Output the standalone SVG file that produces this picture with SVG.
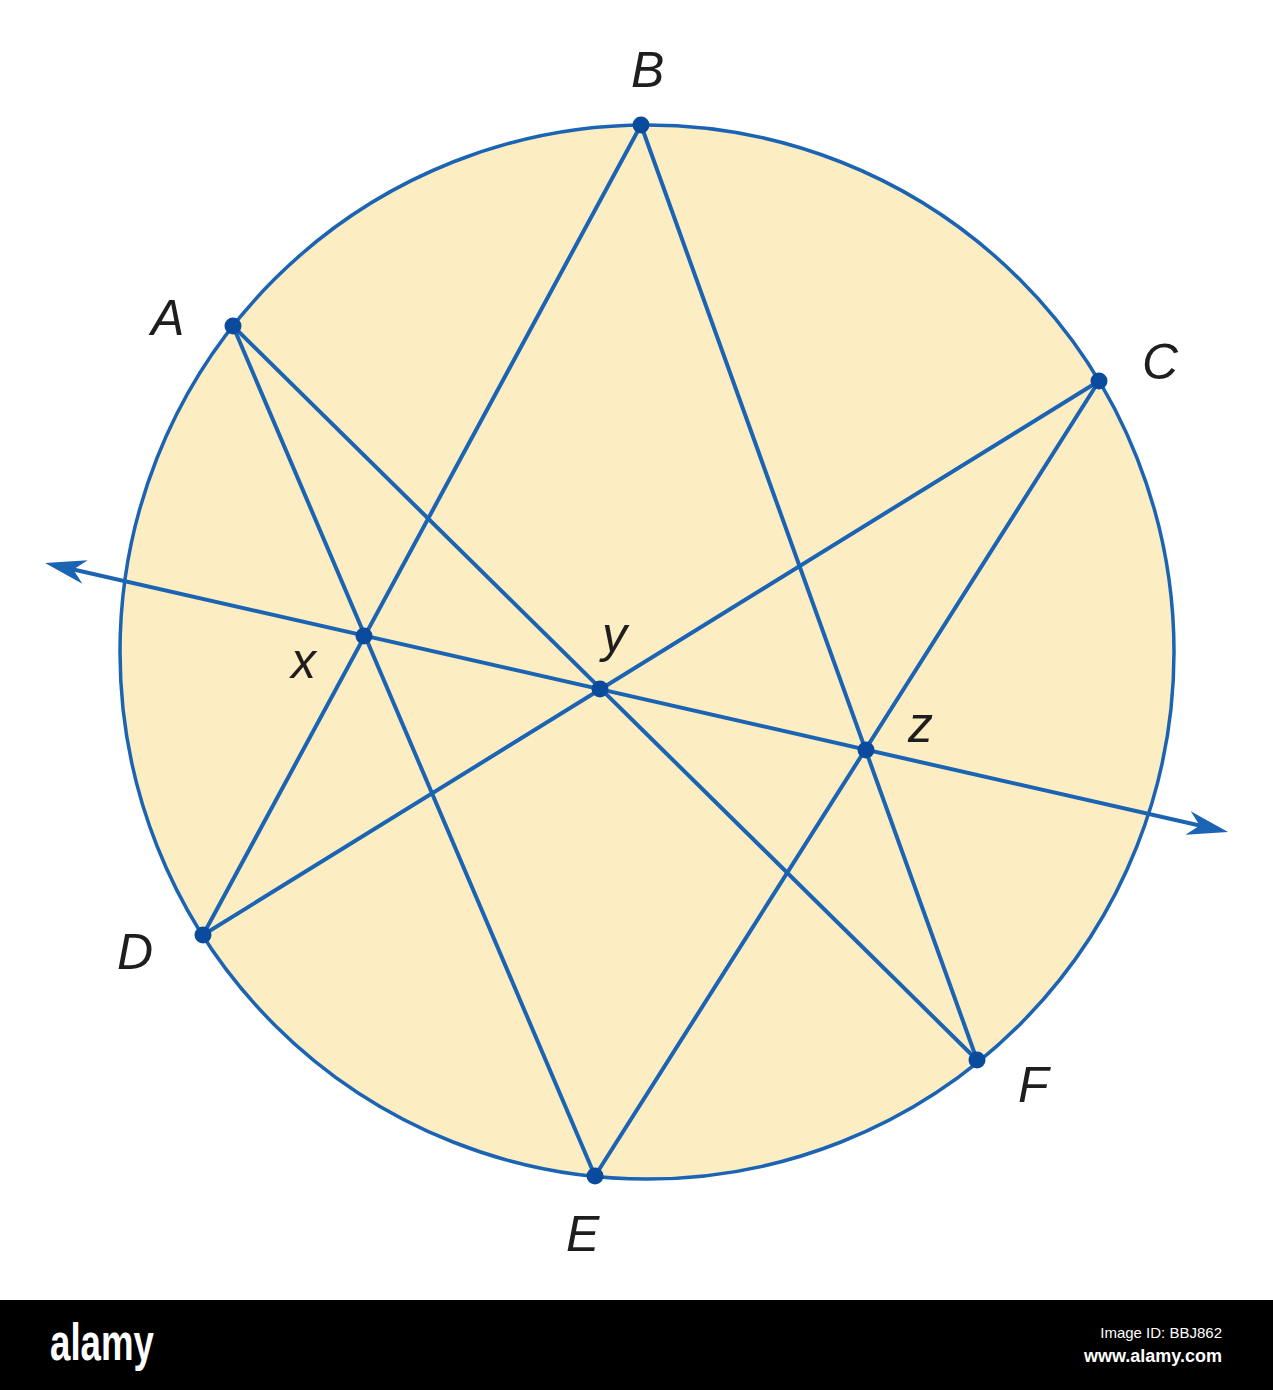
<svg xmlns="http://www.w3.org/2000/svg" width="1273" height="1390" viewBox="0 0 1273 1390">
  <style>
    .seg { stroke: #1b64b4; stroke-width: 4; fill: none; stroke-linecap: round; }
    .dot { fill: #0b4b9e; }
    .lbl { font-family: "Liberation Sans", Arial, sans-serif; font-style: italic; font-size: 50px; fill: #1e1e1e; }
    .ft { font-family: "Liberation Sans", Arial, sans-serif; fill: #ffffff; }
  </style>
  <defs>
    <marker id="arr" viewBox="-34 -14 46 28" refX="0" refY="0" markerWidth="46" markerHeight="28" markerUnits="userSpaceOnUse" orient="auto-start-reverse">
      <path d="M10,0 L-31,-12 L-19,0 L-31,12 Z" fill="#1b64b4"/>
    </marker>
  </defs>
  <rect x="0" y="0" width="1273" height="1390" fill="#ffffff"/>

  <g id="circle">
    <circle cx="647" cy="652" r="527" fill="#fdedc2" stroke="#1b64b4" stroke-width="3.5"/>
  </g>

  <g id="connectors">
    <line class="seg" x1="233" y1="326" x2="595" y2="1176"/>
    <line class="seg" x1="233" y1="326" x2="977" y2="1060"/>
    <line class="seg" x1="641" y1="125" x2="203" y2="935"/>
    <line class="seg" x1="641" y1="125" x2="977" y2="1060"/>
    <line class="seg" x1="1099" y1="381" x2="203" y2="935"/>
    <line class="seg" x1="1099" y1="381" x2="595" y2="1176"/>
    <path class="seg" d="M54.8,565.2 L1218.3,829.8" stroke-linecap="butt" marker-start="url(#arr)" marker-end="url(#arr)"/>
  </g>

  <g id="A"><circle class="dot" cx="233" cy="326" r="8.5"/><text class="lbl" x="151" y="335">A</text></g>
  <g id="B"><circle class="dot" cx="641" cy="125" r="8.5"/><text class="lbl" x="631" y="87">B</text></g>
  <g id="C"><circle class="dot" cx="1099" cy="381" r="8.5"/><text class="lbl" x="1142" y="379">C</text></g>
  <g id="D"><circle class="dot" cx="203" cy="935" r="8.5"/><text class="lbl" x="117" y="969">D</text></g>
  <g id="E"><circle class="dot" cx="595" cy="1176" r="8.5"/><text class="lbl" x="566" y="1251">E</text></g>
  <g id="F"><circle class="dot" cx="977" cy="1060" r="8.5"/><text class="lbl" x="1018" y="1102">F</text></g>
  <g id="X"><circle class="dot" cx="364" cy="636" r="8.5"/><text class="lbl" x="291" y="678">x</text></g>
  <g id="Y"><circle class="dot" cx="600" cy="689" r="8.5"/><text class="lbl" x="602" y="652">y</text></g>
  <g id="Z"><circle class="dot" cx="866" cy="750" r="8.5"/><text class="lbl" x="908" y="742">z</text></g>

  <g id="footer">
    <rect x="0" y="1300" width="1273" height="90" fill="#000000"/>
    <text class="ft" x="50" y="1360" font-size="52" font-weight="bold" textLength="104" lengthAdjust="spacingAndGlyphs">alamy</text>
    <text class="ft" x="1222" y="1338" font-size="15" text-anchor="end">Image ID: BBJ862</text>
    <text class="ft" x="1222" y="1362" font-size="18" font-weight="bold" text-anchor="end">www.alamy.com</text>
  </g>
</svg>
